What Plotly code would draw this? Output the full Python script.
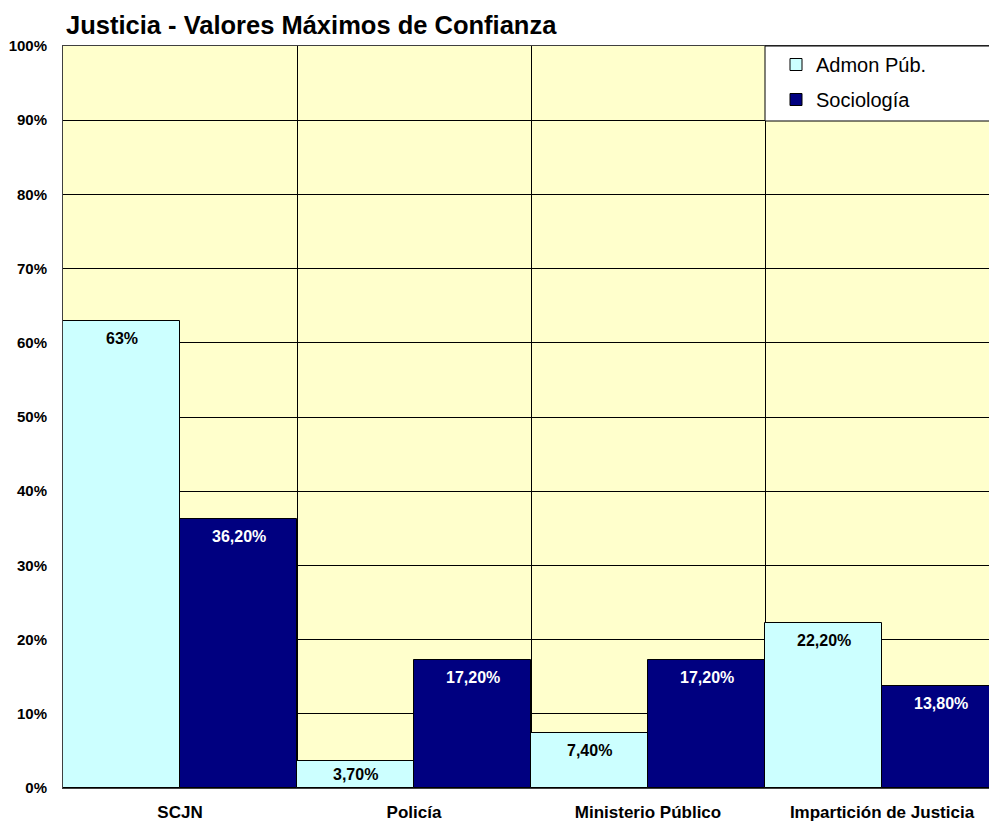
import plotly.graph_objects as go

categories = ["SCJN", "Policía", "Ministerio Público", "Impartición de Justicia"]
admon = [0.63, 0.037, 0.074, 0.222]
socio = [0.362, 0.172, 0.172, 0.138]
admon_labels = ["63%", "3,70%", "7,40%", "22,20%"]
socio_labels = ["36,20%", "17,20%", "17,20%", "13,80%"]
y_ticks = [0, 0.1, 0.2, 0.3, 0.4, 0.5, 0.6, 0.7, 0.8, 0.9, 1.0]
y_tick_labels = ["0%", "10%", "20%", "30%", "40%", "50%", "60%", "70%", "80%", "90%", "100%"]

W, H = 989, 824
ML, MR, MT, MB = 63, 0, 46, 36
PLOT_H = H - MT - MB
FONT = "Liberation Sans, Arial, sans-serif"
x = list(range(len(categories)))

fig = go.Figure()
fig.add_trace(go.Bar(
    x=x, y=admon, name="Admon Púb.", legendgroup="a",
    marker=dict(color="#CCFFFF", line=dict(color="black", width=1)),
))
fig.add_trace(go.Bar(
    x=x, y=socio, name="Sociología", legendgroup="b",
    marker=dict(color="#000080", line=dict(color="black", width=1)),
))


def label_shift(v):
    h = v * PLOT_H
    gap = min(10, (h - 15) / 2)
    return -(gap - 3)


annotations = []
for i in x:
    for val, lab, off, col in ((admon[i], admon_labels[i], -0.25, "black"),
                               (socio[i], socio_labels[i], 0.25, "white")):
        annotations.append(dict(
            x=i + off, y=val, xref="x", yref="y", text=lab, showarrow=False,
            yanchor="top", yshift=label_shift(val),
            font=dict(family=FONT, size=16, color=col, weight="bold"),
        ))

# legend background box (spans from the last category boundary to the right edge)
shapes = [dict(type="rect", xref="x", yref="paper", x0=2.5, x1=3.6,
               y0=1 - 75 / PLOT_H, y1=1, fillcolor="white",
               line=dict(color="black", width=1), layer="above")]

fig.update_layout(
    width=W, height=H,
    margin=dict(l=ML, r=MR, t=MT, b=MB),
    paper_bgcolor="white", plot_bgcolor="#FFFFCC",
    barmode="group", bargap=0, bargroupgap=0,
    font=dict(family=FONT, color="black"),
    title=dict(text="Justicia - Valores Máximos de Confianza", x=66 / W, xanchor="left",
               y=1 - 25 / H, yanchor="middle",
               font=dict(family=FONT, size=25.5, color="black", weight="bold")),
    legend=dict(x=(776 - ML) / (W - ML), y=1 + 1 / PLOT_H, xanchor="left", yanchor="top",
                bgcolor="rgba(0,0,0,0)", borderwidth=0, tracegroupgap=6,
                font=dict(family=FONT, size=20, color="black"), itemwidth=30),
    showlegend=True,
    annotations=annotations,
    shapes=shapes,
)
fig.update_xaxes(
    range=[-0.5, 3.5 - 10 / 234], tickvals=x, ticktext=categories,
    tickfont=dict(family=FONT, size=17, color="black", weight="bold"),
    showgrid=False, zeroline=False, showline=True, linecolor="#404040", linewidth=1, mirror=True,
    minor=dict(tick0=0.5, dtick=1, showgrid=True, gridcolor="black", gridwidth=1, ticks=""),
    ticks="", ticklabelstandoff=9,
)
fig.update_yaxes(
    range=[0, 1], tickvals=y_ticks, ticktext=y_tick_labels,
    tickfont=dict(family=FONT, size=15, color="black", weight="bold"),
    showgrid=True, gridcolor="black", gridwidth=1, zeroline=False,
    showline=True, linecolor="#404040", linewidth=1, mirror=True,
    ticks="", ticklabelstandoff=12,
)

fig.write_html("out.html", config={"displayModeBar": False},
               post_script="document.body.style.margin='0px';document.body.style.overflow='hidden';")
